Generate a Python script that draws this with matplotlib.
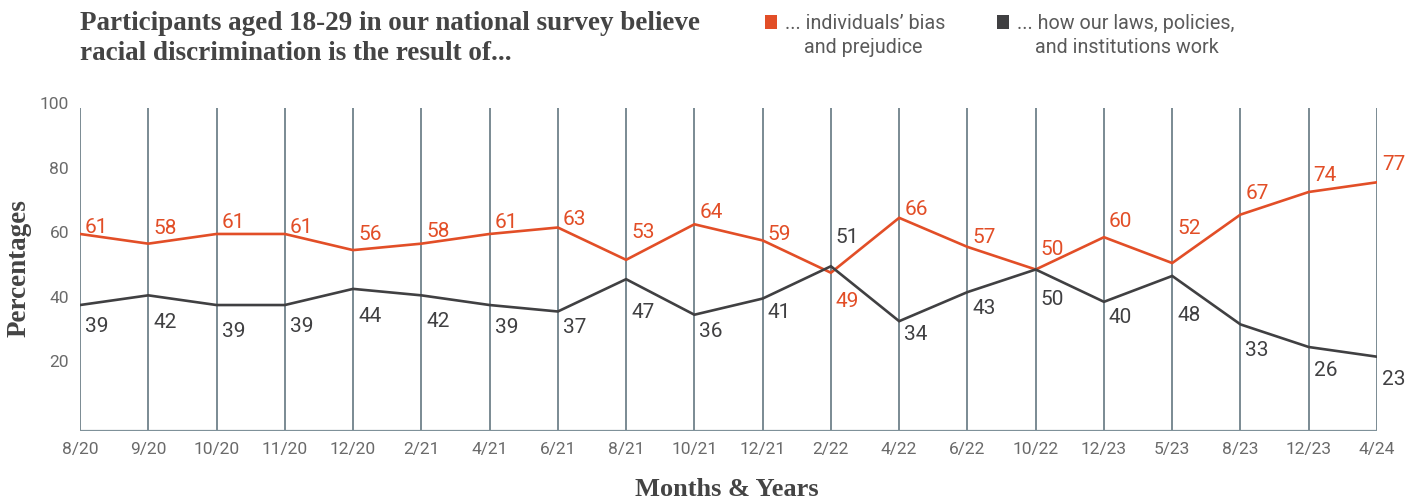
import matplotlib
matplotlib.use("Agg")
import matplotlib.pyplot as plt
from matplotlib.transforms import ScaledTranslation
from matplotlib.patches import Rectangle

# ---- data ----
months = ["8/20", "9/20", "10/20", "11/20", "12/20", "2/21", "4/21", "6/21", "8/21", "10/21",
          "12/21", "2/22", "4/22", "6/22", "10/22", "12/23", "5/23", "8/23", "12/23", "4/24"]
bias = [61, 58, 61, 61, 56, 58, 61, 63, 53, 64, 59, 49, 66, 57, 50, 60, 52, 67, 74, 77]
institutions = [39, 42, 39, 39, 44, 42, 39, 37, 47, 36, 41, 51, 34, 43, 50, 40, 48, 33, 26, 23]
y_ticks = [20, 40, 60, 80, 100]

title = "Participants aged 18-29 in our national survey believe\nracial discrimination is the result of..."
legend_bias = ("... individuals\u2019 bias", "and prejudice")
legend_inst = ("... how our laws, policies,", "and institutions work")
x_label = "Months & Years"
y_label = "Percentages"

# label baseline offsets in pixels (positive = above the point) -- style only
bias_dy = [1, 10, 6, 1, 10, 7, 6, 3, 22, 6, 0, -34, 3, 4, 14, 10, 29, 16, 11, 12]
inst_dy = [-27, -33, -32, -27, -33, -32, -28, -22, -39, -22, -19, 23, -19, -22, -36, -21, -45, -32, -29, -28]

ORANGE = "#E24E27"
DARK = "#404042"
GRID = "#566b75"
TICK = "#6a6a6a"
TITLE_C = "#444444"
SERIF = "Liberation Serif"

W, H = 1414, 504
fig = plt.figure(figsize=(W / 100, H / 100), dpi=100)
ax = fig.add_axes([80 / W, 1 - 431 / H, (1377 - 80) / W, (431 - 108) / H])

x = list(range(len(months)))
ax.set_xlim(0, len(months) - 1)
ax.set_ylim(0, 100)

ax.vlines(x, 0, 100, color=GRID, lw=1.1, zorder=1)
ax.hlines(0, 0, len(months) - 1, color="#7f9199", lw=1.6, zorder=1)
for s in ax.spines.values():
    s.set_visible(False)

ax.plot(x, bias, color=ORANGE, lw=1.9, zorder=3, solid_joinstyle="miter")
ax.plot(x, institutions, color=DARK, lw=1.9, zorder=3, solid_joinstyle="miter")

for i in x:
    ax.annotate(str(bias[i]), (i, bias[i]), xytext=(5, bias_dy[i]), textcoords="offset pixels",
                ha="left", va="baseline", color=ORANGE, fontsize=15, family="Roboto",
                annotation_clip=False, zorder=4)
    ax.annotate(str(institutions[i]), (i, institutions[i]), xytext=(5, inst_dy[i]),
                textcoords="offset pixels", ha="left", va="baseline", color=DARK,
                fontsize=15, family="Roboto", annotation_clip=False, zorder=4)

ax.set_xticks(x)
ax.set_xticklabels(months, family="Roboto", fontsize=12.5, color=TICK)
ax.set_yticks(y_ticks)
ax.set_yticklabels([str(v) for v in y_ticks], family="Roboto", fontsize=12.5, color=TICK)
ax.tick_params(axis="both", length=0)
ax.tick_params(axis="x", pad=8)
ax.tick_params(axis="y", pad=8)
for lab in ax.get_yticklabels():
    lab.set_transform(lab.get_transform() + ScaledTranslation(0, 5 / 100, fig.dpi_scale_trans))

# axis titles
fig.text(727 / W, 1 - 490 / H, x_label, ha="center", va="center", family=SERIF,
         fontweight="bold", fontsize=19, color=TITLE_C)
fig.text(19 / W, 1 - 268 / H, y_label, ha="center", va="center", rotation=90,
         family=SERIF, fontweight="bold", fontsize=19.5, color=TITLE_C)

# title
fig.text(80 / W, 1 - 11 / H, title, ha="left", va="top", family=SERIF,
         fontweight="bold", fontsize=19.5, color=TITLE_C, linespacing=1.25)

# legend
def legend_item(sq_x, txt_x, txt_x2, color, lines):
    fig.patches.append(Rectangle((sq_x / W, 1 - 29 / H), 12 / W, 14 / H, transform=fig.transFigure,
                                 facecolor=color, edgecolor="none"))
    fig.text(txt_x / W, 1 - 29 / H, lines[0], ha="left", va="baseline", family="Roboto",
             fontsize=14.2, color="#5a5a5a")
    fig.text(txt_x2 / W, 1 - 53 / H, lines[1], ha="left", va="baseline", family="Roboto",
             fontsize=14.2, color="#5a5a5a")

legend_item(765, 785, 804, ORANGE, legend_bias)
legend_item(997, 1017, 1035, DARK, legend_inst)

fig.savefig("out.png", dpi=100)
